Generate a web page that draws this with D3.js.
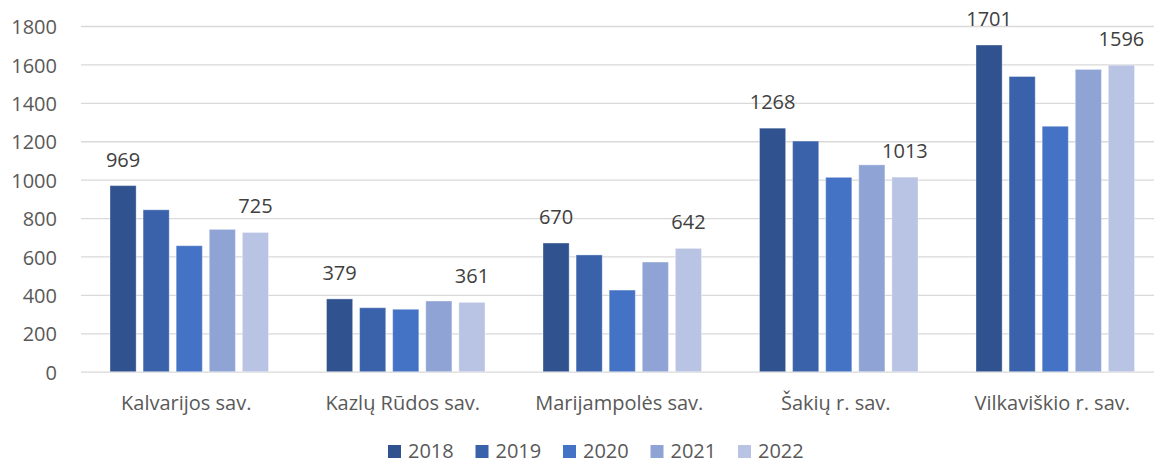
<!DOCTYPE html>
<html>
<head>
<meta charset="utf-8">
<script src="https://cdn.jsdelivr.net/npm/d3@7"></script>
<style>
  html, body { margin: 0; padding: 0; background: #fff; }
  svg { display: block; }
  text { font-family: "Open Sans", sans-serif; }
</style>
</head>
<body>
<svg id="chart" width="1154" height="463"></svg>
<script>
const categories = ["Kalvarijos sav.", "Kazlų Rūdos sav.", "Marijampolės sav.", "Šakių r. sav.", "Vilkaviškio r. sav."];
const years = ["2018", "2019", "2020", "2021", "2022"];
const v2018 = [969, 379, 670, 1268, 1701];
const v2019 = [843, 333, 608, 1201, 1537];
const v2020 = [656, 325, 425, 1012, 1278];
const v2021 = [741, 368, 571, 1077, 1574];
const v2022 = [725, 361, 642, 1013, 1596];
const yTicks = [0, 200, 400, 600, 800, 1000, 1200, 1400, 1600, 1800];
const labeledYears = ["2018", "2022"];

const seriesValues = [v2018, v2019, v2020, v2021, v2022];
const colors = ["#30538f", "#3a62ab", "#4472c4", "#8fa4d5", "#b9c3e3"];

const svg = d3.select("#chart");
const mLeft = 81, mRight = 1163.5, mTop = 26, mBottom = 371.7;

const x0 = d3.scaleBand().domain(categories).range([mLeft, mRight]).paddingInner(0).paddingOuter(0);
const groupWidth = 158.5;
const x1 = d3.scaleBand().domain(years).range([0, groupWidth]).paddingInner(0.21).paddingOuter(0);
const y = d3.scaleLinear().domain([0, 1800]).range([mBottom, mTop]);
const color = d3.scaleOrdinal().domain(years).range(colors);

// gridlines
const yAxis = d3.axisLeft(y).tickValues(yTicks).tickSize(-(mRight - mLeft)).tickPadding(24).tickFormat(d3.format("d"));
const gAxis = svg.append("g").attr("transform", `translate(${mLeft},0)`).call(yAxis);
gAxis.select(".domain").remove();
gAxis.selectAll(".tick line").attr("stroke", "#d9d9d9").attr("stroke-width", 1.3);
gAxis.selectAll(".tick text").attr("fill", "#595959").style("font-size", "20px").attr("dy", "0.38em");

const data = categories.map((c, i) => ({ cat: c, vals: years.map((yr, j) => ({ yr, v: seriesValues[j][i] })) }));

const groups = svg.append("g").selectAll("g").data(data).join("g")
  .attr("transform", d => `translate(${x0(d.cat) + (x0.bandwidth() - groupWidth) / 2},0)`);

groups.selectAll("rect").data(d => d.vals).join("rect")
  .attr("x", d => x1(d.yr))
  .attr("width", x1.bandwidth())
  .attr("y", d => y(d.v))
  .attr("height", d => y(0) - y(d.v))
  .attr("fill", d => color(d.yr))
  .attr("stroke", "#ffffff")
  .attr("stroke-opacity", 0.35)
  .attr("stroke-width", 1);

groups.selectAll("text.lbl").data(d => d.vals.filter(v => labeledYears.includes(v.yr))).join("text")
  .attr("class", "lbl")
  .attr("x", d => x1(d.yr) + x1.bandwidth() / 2)
  .attr("y", d => y(d.v) - 19)
  .attr("text-anchor", "middle")
  .attr("fill", "#404040")
  .style("font-size", "20px")
  .text(d => d.v);

// category axis
const xAxis = d3.axisBottom(x0).tickSize(0).tickPadding(0);
const gx = svg.append("g").attr("transform", `translate(0,${mBottom})`).call(xAxis);
gx.select(".domain").remove();
gx.selectAll(".tick text").attr("fill", "#595959").style("font-size", "20px").attr("dy", "0").attr("y", 38).attr("dx", "-3");

// legend
const legend = svg.append("g").selectAll("g").data(years).join("g")
  .attr("transform", (d, i) => `translate(${388 + i * 87.5},445)`);
legend.append("rect").attr("width", 13).attr("height", 13).attr("fill", d => color(d));
legend.append("text").attr("x", 20).attr("y", 12.5).attr("fill", "#595959").style("font-size", "20px").text(d => d);
</script>
</body>
</html>
